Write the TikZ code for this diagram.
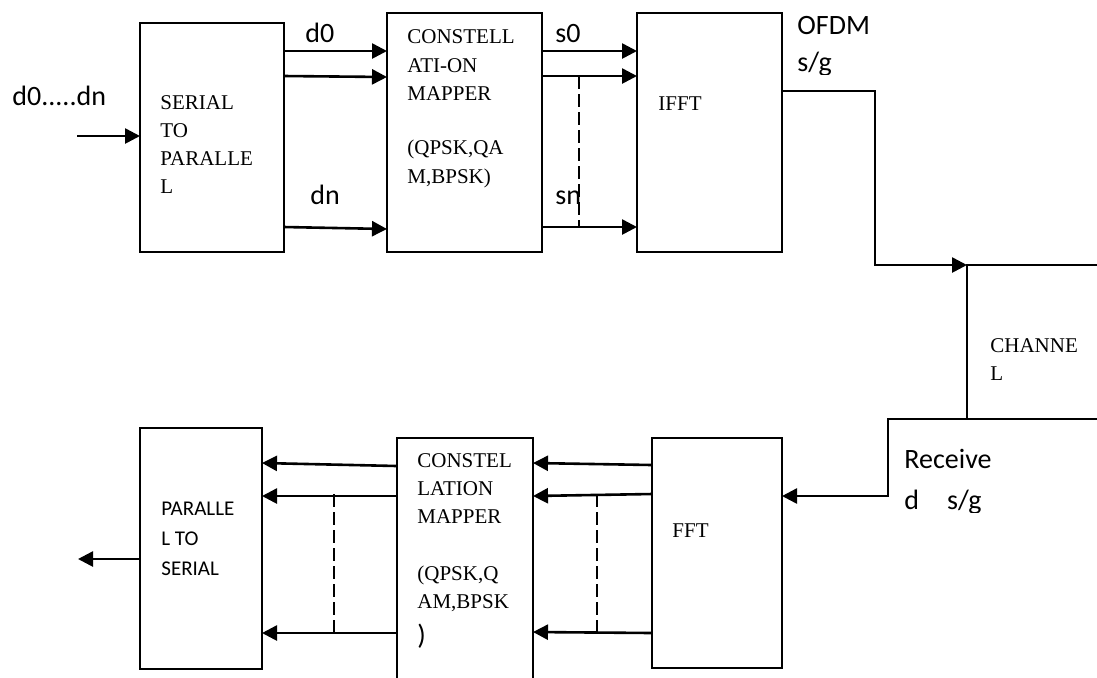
\documentclass[tikz,border=0pt]{standalone}
\usepackage{fontspec}
\setmainfont{Liberation Serif}
\newfontfamily\calibri{Carlito}
\usetikzlibrary{arrows.meta}

\tikzset{
  blk/.style={draw, line width=0.9pt, inner sep=0pt, outer sep=0pt},
  arr/.style={line width=1.3pt, -{Triangle[length=7.5pt,width=7.5pt]}},
  sep/.style={line width=0.7pt, dash pattern=on 6.5pt off 2.5pt},
  txt/.style={align=left, anchor=base west, inner sep=0pt},
  lbl/.style={font=\calibri\fontsize{14}{18.5}\selectfont, anchor=base west, inner sep=0pt}
}

\begin{document}
\begin{tikzpicture}[x=0.5pt, y=-0.5pt]
  \useasboundingbox (0,0) rectangle (1097,677);

  % --- Blocks (transmitter) ---
  \node[blk, minimum width=72pt, minimum height=114.5pt] (sp) at (212,137.5) {};
  \node[blk, minimum width=77.5pt, minimum height=119.5pt] (mapA) at (464.5,132.5) {};
  \node[blk, minimum width=72.5pt, minimum height=119.5pt] (ifft) at (709.5,132.5) {};

  % --- Channel (open to the right) ---
  \node[blk, minimum width=81.5pt, minimum height=77pt] (chan) at (1048.5,342) {};

  % --- Blocks (receiver) ---
  \node[blk, minimum width=65pt, minimum height=115pt] (fft) at (717,553) {};
  \node[blk, minimum width=68pt, minimum height=131pt] (mapB) at (465,569) {};
  \node[blk, minimum width=61pt, minimum height=120.5pt] (ps) at (201,548.5) {};

  % --- Block texts (anchored on the last line) ---
  \node[txt, font=\fontsize{10.5}{13.85}\selectfont] (spT) at (160,193)
    {SERIAL\\TO\\PARALLE\\L};
  \node[txt, font=\fontsize{10.5}{14.25}\selectfont] (mapAT) at (407,183)
    {CONSTELL\\ATI-ON\\MAPPER\\[12.75pt](QPSK,QA\\M,BPSK)};
  \node[txt, font=\fontsize{10.5}{14}\selectfont] (ifftT) at (658,110) {IFFT};
  \node[txt, font=\fontsize{10.5}{14}\selectfont] (chanT) at (990,380)
    {CHANNE\\L};
  \node[txt, font=\fontsize{10.5}{14}\selectfont] (fftT) at (672,537) {FFT};
  \node[txt, font=\fontsize{10.5}{14}\selectfont] (mapBT) at (417,644)
    {CONSTEL\\LATION\\MAPPER\\[14.5pt](QPSK,Q\\AM,BPSK\\[4pt]{\calibri\fontsize{14}{14}\selectfont)}};
  \node[txt, font=\calibri\fontsize{10.5}{15}\selectfont] (psT) at (161,575)
    {PARALLE\\L TO\\SERIAL};

  % --- Input / output ---
  \coordinate (in) at (77,136);
  \coordinate (out) at (78,559);
  \draw[arr] (in) -- (sp.west |- in);
  \draw[arr] (ps.west |- out) -- (out);
  \node[lbl] (inL) at (12,105) {d0.....dn};

  % --- Serial to parallel -> mapper ---
  \draw[arr] (sp.east |- 0,51) -- (mapA.west |- 0,51);
  \draw[arr] (sp.east |- 0,76) -- (mapA.west |- 0,77);
  \draw[arr] (sp.east |- 0,227) -- (mapA.west |- 0,229);
  \node[lbl] (d0) at (305,42) {d0};
  \node[lbl] (dn) at (310,204) {dn};

  % --- Mapper -> IFFT ---
  \draw[arr] (mapA.east |- 0,51) -- (ifft.west |- 0,51);
  \draw[arr] (mapA.east |- 0,76) -- (ifft.west |- 0,76);
  \draw[arr] (mapA.east |- 0,227) -- (ifft.west |- 0,227);
  \draw[sep] (579,76) -- (579,227);
  \node[lbl] (s0) at (555,42) {s0};
  \node[lbl] (sn) at (555,204) {sn};

  % --- IFFT -> channel ---
  \coordinate (tx) at (875,265);
  \draw[arr] (ifft.east |- 0,91) -| (tx) -- (chan.north west);
  \begin{scope}
    \clip (790,0) rectangle (880,74);
    \node[lbl, font=\calibri\fontsize{14}{18.5}\selectfont, align=left] (ofdm) at (797,71) {OFDM\\s/g};
  \end{scope}

  % --- Channel -> FFT ---
  \coordinate (rx) at (888,419);
  \draw[arr] (chan.south west) -- (rx) |- (fft.east |- 0,496);
  \begin{scope}
    \clip (895,420) rectangle (1000,512);
    \node[lbl, font=\calibri\fontsize{14}{20.5}\selectfont, align=left] (recv) at (904,509)
      {Receive\\d\hspace*{14pt}s/g};
  \end{scope}

  % --- FFT -> mapper ---
  \draw[arr] (fft.west |- 0,465) -- (mapB.east |- 0,463);
  \draw[arr] (fft.west |- 0,494) -- (mapB.east |- 0,496);
  \draw[arr] (fft.west |- 0,633) -- (mapB.east |- 0,632);
  \draw[sep] (597,494) -- (597,633);

  % --- Mapper -> parallel to serial ---
  \draw[arr] (mapB.west |- 0,466) -- (ps.east |- 0,463);
  \draw[arr] (mapB.west |- 0,496) -- (ps.east |- 0,496);
  \draw[arr] (mapB.west |- 0,633) -- (ps.east |- 0,633);
  \draw[sep] (334,494) -- (334,633);

\end{tikzpicture}
\end{document}
